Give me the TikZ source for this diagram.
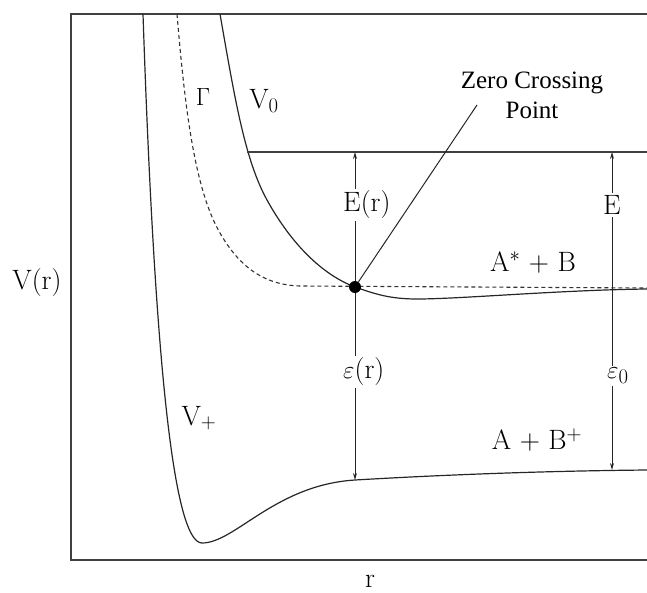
\documentclass[tikz,border=0pt]{standalone}
\usepackage{fontspec}
\newfontfamily\timesfont{Liberation Serif}
\usetikzlibrary{arrows.meta}
\begin{document}
\begin{tikzpicture}[x=1pt,y=-1pt,
  frame/.style={draw=black!75,line width=1.3pt},
  curve/.style={draw=black!85,line width=1.2pt},
  dcurve/.style={draw=black!80,line width=1.1pt,dash pattern=on 4pt off 3pt},
  thin/.style={draw=black!85,line width=1pt},
  arr/.style={draw=black!85,line width=1pt,-{Stealth[length=7pt,width=4pt]}},
  lbl/.style={font=\fontsize{28}{32}\selectfont,inner sep=1pt},
  wlbl/.style={lbl,fill=white,inner sep=2pt},
  note/.style={font=\fontsize{25}{30}\timesfont\selectfont,align=center,inner sep=0pt}]
\useasboundingbox (0,0) rectangle (647,592);
% frame
\draw[frame] (647,14) -- (71,14) -- (71,560) -- (647,560);
% V+ curve
\draw[curve] (143,14) .. controls (154,340) and (172,543) .. (202,543)
  .. controls (235,543) and (275,485) .. (355,480)
  .. controls (440,475) and (540,471) .. (647,470);
% Gamma dashed
\draw[dcurve] (177,14) .. controls (185,110) and (195,190) .. (220,233)
  .. controls (240,268) and (265,285) .. (300,286) -- (647,288);
% V0 curve
\draw[curve] (220,14) .. controls (235,100) and (245,160) .. (267,200)
  .. controls (288,238) and (318,273) .. (355,287)
  .. controls (375,294) and (390,299) .. (417,299)
  .. controls (460,299) and (560,290) .. (647,289);
% E level
\coordinate (elL) at (247,152);
\coordinate (elR) at (647,152);
\draw[frame,line width=1.2pt] (elL) -- (elR);
% zero crossing point
\node[circle,fill=black,inner sep=0pt,minimum size=12pt] (zc) at (355,287) {};
\coordinate (zcTop) at (355,152);
\coordinate (zcBot) at (355,480);
\draw[arr] (zc) -- (zcTop);
\draw[arr] (zc) -- (zcBot);
\node[wlbl,anchor=west] (Er) at (341,205) {E(r)};
\node[wlbl,anchor=west] (epsr) at (341,372) {$\varepsilon$(r)};
% right arrows
\coordinate (rMid) at (612,288);
\coordinate (rTop) at (612,152);
\coordinate (rBot) at (612,470);
\draw[arr] (rMid) -- (rTop);
\draw[arr] (rMid) -- (rBot);
\node[wlbl] (E) at (612,205) {E};
\node[wlbl,anchor=west] (eps0) at (605,376) {$\varepsilon_0$};
% annotation
\node[note] (zcp) at (532,95) {Zero Crossing\\Point};
\coordinate (lead) at (477,105);
\draw[thin] (zc) -- (lead);
% labels
\node[lbl] (Vr) at (37,283) {V(r)};
\node[lbl] (Gam) at (203,97) {$\Gamma$};
\node[lbl] (V0) at (264,101) {V$_0$};
\node[lbl] (Vp) at (199,418) {V$_+$};
\node[lbl] (AsB) at (533,262) {A$^*$ + B};
\node[lbl] (ABp) at (537,440) {A + B$^+$};
\node[lbl] (r) at (370,581) {r};
\end{tikzpicture}
\end{document}
